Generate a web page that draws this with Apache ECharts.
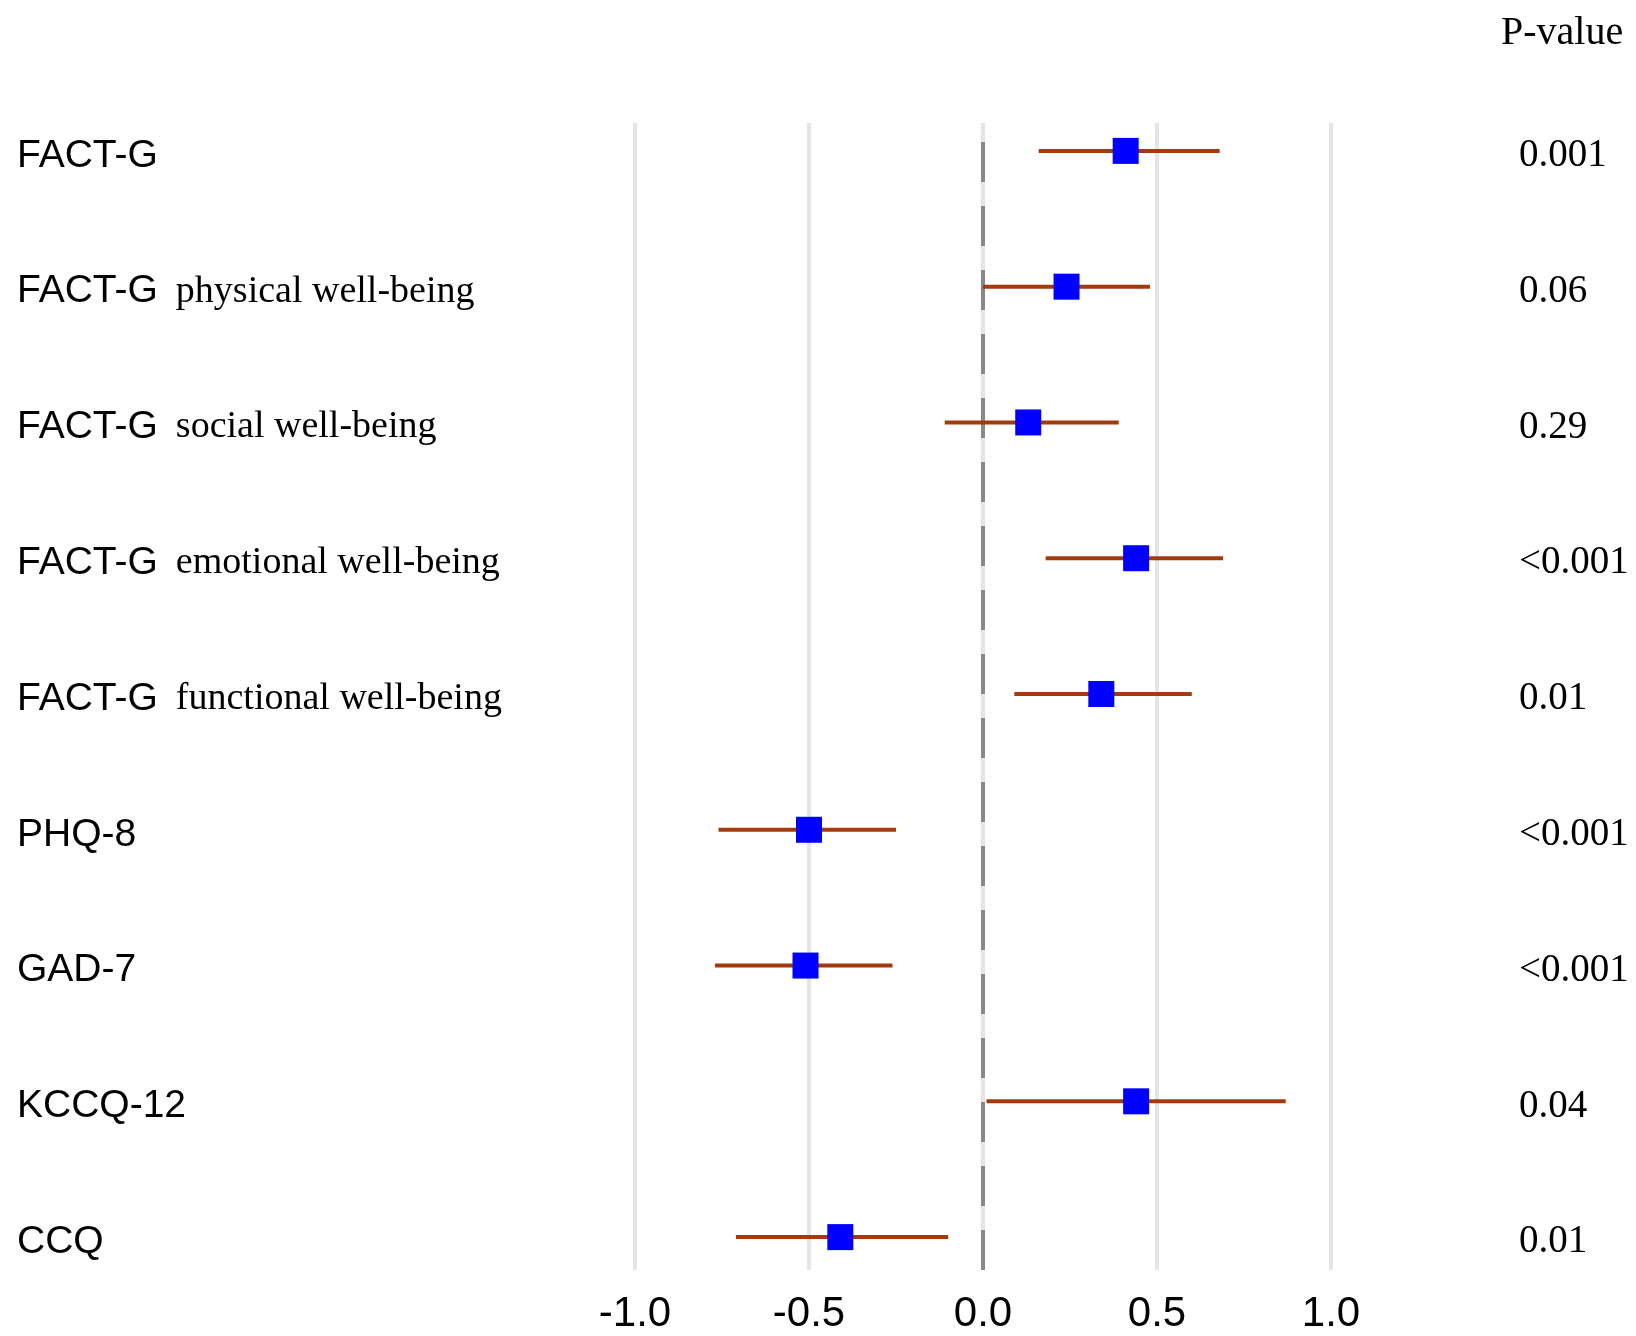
<!DOCTYPE html>
<html>
<head>
<meta charset="utf-8">
<script src="https://cdn.jsdelivr.net/npm/echarts@6/dist/echarts.min.js"></script>
<style>
  html, body { margin: 0; padding: 0; background: #ffffff; }
  #chart { width: 1636px; height: 1336px; }
</style>
</head>
<body>
<div id="chart"></div>
<script>
// ---- data ----
const categories = [
  "FACT-G",
  "FACT-G physical well-being",
  "FACT-G social well-being",
  "FACT-G emotional well-being",
  "FACT-G functional well-being",
  "PHQ-8",
  "GAD-7",
  "KCCQ-12",
  "CCQ"
];
const estimates = [0.41, 0.24, 0.13, 0.44, 0.34, -0.50, -0.51, 0.44, -0.41];
const lowerCI   = [0.16, 0.00, -0.11, 0.18, 0.09, -0.76, -0.77, 0.01, -0.71];
const upperCI   = [0.68, 0.48, 0.39, 0.69, 0.60, -0.25, -0.26, 0.87, -0.10];
const pValues   = ["0.001", "0.06", "0.29", "<0.001", "0.01", "<0.001", "<0.001", "0.04", "0.01"];
const xTickMin = -1.0, xTickMax = 1.0, xTickStep = 0.5;
const pHeader = "P-value";

// ---- build chart ----
const SANS = "Liberation Sans";
const SERIF = "Liberation Serif";

const rows = categories.map((c, i) => [i, lowerCI[i], upperCI[i], estimates[i]]);

function renderItem(params, api) {
  const idx = api.value(0);
  const pLo = api.coord([api.value(1), idx]);
  const pHi = api.coord([api.value(2), idx]);
  const pEst = api.coord([api.value(3), idx]);
  const box = 26;
  return {
    type: 'group',
    children: [
      {
        type: 'line',
        shape: { x1: pLo[0], y1: pLo[1], x2: pHi[0], y2: pHi[1] },
        style: { stroke: '#A33A0B', lineWidth: 4 }
      },
      {
        type: 'rect',
        shape: { x: pEst[0] - box / 2, y: pEst[1] - box / 2, width: box, height: box },
        style: { fill: '#0000FF' }
      }
    ]
  };
}

const chart = echarts.init(document.getElementById('chart'), null, { renderer: 'canvas' });
chart.setOption({
  animation: false,
  backgroundColor: '#ffffff',
  title: {
    text: pHeader,
    left: 1496,
    top: 8,
    textStyle: { fontFamily: SERIF, fontSize: 40, fontWeight: 'normal', color: '#000' }
  },
  grid: [
    { left: 635, width: 696, top: 123, height: 1147, containLabel: false },
    { left: 635, width: 696, top: 83, height: 1222, containLabel: false }
  ],
  xAxis: [
    {
      type: 'value', gridIndex: 0,
      min: xTickMin, max: xTickMax, interval: xTickStep,
      axisLine: { show: false }, axisTick: { show: false },
      splitLine: { show: true, lineStyle: { color: '#E5E5E5', width: 4 } },
      axisLabel: {
        margin: 23, fontFamily: SANS, fontSize: 42, color: '#000',
        formatter: v => v.toFixed(1)
      }
    },
    {
      type: 'value', gridIndex: 1,
      min: xTickMin, max: xTickMax,
      show: false
    }
  ],
  yAxis: [
    {
      type: 'value', gridIndex: 0, min: 0, max: 1, show: false
    },
    {
      type: 'category', gridIndex: 1, data: categories, inverse: true,
      position: 'left',
      axisLine: { show: false }, axisTick: { show: false }, splitLine: { show: false },
      axisLabel: {
        align: 'left', margin: 618, padding: [10, 0, 0, 0],
        formatter: function (v) {
          const k = v.indexOf(' ');
          if (k < 0) return '{a|' + v + '}';
          return '{a|' + v.slice(0, k) + '}{b|' + v.slice(k + 1) + '}';
        },
        rich: {
          a: { fontFamily: SANS, fontSize: 39, color: '#000' },
          b: { fontFamily: SERIF, fontSize: 38, color: '#000', padding: [0, 0, 0, 18] }
        }
      }
    },
    {
      type: 'category', gridIndex: 1, data: categories, inverse: true,
      position: 'right',
      axisLine: { show: false }, axisTick: { show: false }, splitLine: { show: false },
      axisLabel: {
        align: 'left', margin: 188, padding: [10, 0, 0, 0],
        formatter: (v, i) => '{p|' + pValues[i] + '}',
        rich: {
          p: { fontFamily: SERIF, fontSize: 39, color: '#000' }
        }
      }
    }
  ],
  series: [
    {
      type: 'scatter', xAxisIndex: 0, yAxisIndex: 0, data: [],
      markLine: {
        silent: true, symbol: 'none', label: { show: false },
        lineStyle: { color: '#888888', width: 4, type: [40, 24] },
        data: [{ xAxis: 0 }]
      }
    },
    {
      type: 'custom', xAxisIndex: 1, yAxisIndex: 1,
      renderItem: renderItem,
      encode: { x: [1, 2, 3], y: 0 },
      data: rows,
      z: 10
    }
  ]
});
</script>
</body>
</html>
